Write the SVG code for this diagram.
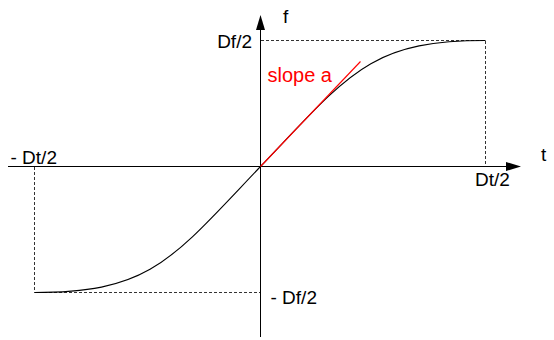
<svg xmlns="http://www.w3.org/2000/svg" width="554" height="340" viewBox="0 0 554 340">
  <defs>
    <style>
      .axis { stroke: #000; stroke-width: 1; fill: none; }
      .dash { stroke: #333; stroke-width: 1; stroke-dasharray: 3 2; fill: none; }
      .curve { stroke: #000; stroke-width: 1.1; fill: none; }
      .tangent { stroke: #ff0000; stroke-width: 1.1; fill: none; }
      .lbl { font-family: "Liberation Sans", Arial, sans-serif; font-size: 19px; fill: #000; }
      .red { font-family: "Liberation Sans", Arial, sans-serif; font-size: 20px; fill: #ff0000; }
      .head { fill: #000; stroke: none; }
    </style>
  </defs>
  <rect width="554" height="340" fill="#fff"/>

  <g id="guides">
    <polyline class="dash" points="261,40.5 485.5,40.5 485.5,166"/>
    <polyline class="dash" points="34.5,167 34.5,292.5 260,292.5"/>
  </g>

  <g id="axes">
    <line class="axis" x1="8" y1="166.5" x2="508" y2="166.5"/>
    <polygon class="head" points="521,166.5 506,162 506,171"/>
    <line class="axis" x1="260.5" y1="337" x2="260.5" y2="28"/>
    <polygon class="head" points="260.5,15 256,30 265,30"/>
  </g>

  <g id="curve">
    <path class="curve" d="M34.5,292.5 C150.5,292.5 170.5,261 260.5,166.5 C350.5,72 370.5,40.5 485.5,40.5"/>
  </g>

  <g id="tangent">
    <line class="tangent" x1="260.5" y1="166.5" x2="360.5" y2="61.5"/>
  </g>

  <g id="labels">
    <text class="lbl" x="283" y="23">f</text>
    <text class="lbl" x="252" y="47.5" text-anchor="end">Df/2</text>
    <text class="red" x="267.5" y="82">slope a</text>
    <text class="lbl" x="10.5" y="163.5">- Dt/2</text>
    <text class="lbl" x="541" y="161">t</text>
    <text class="lbl" x="475" y="185.5">Dt/2</text>
    <text class="lbl" x="270.5" y="304">- Df/2</text>
  </g>
</svg>
